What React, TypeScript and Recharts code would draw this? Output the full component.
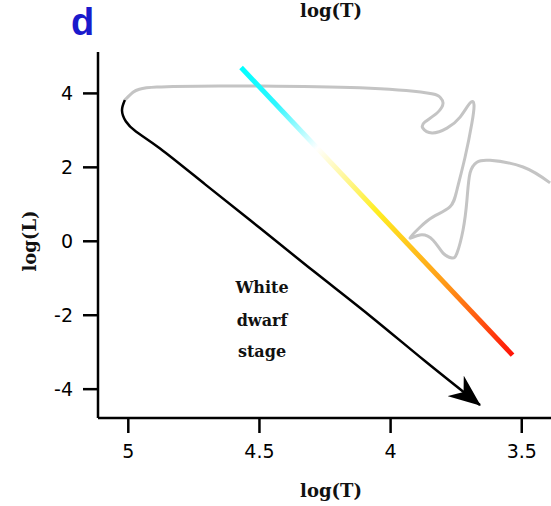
import { LineChart, Line, XAxis, YAxis } from "recharts"

const xTicks = [5, 4.5, 4, 3.5]
const yTicks = [4, 2, 0, -2, -4]

// grey evolutionary track (log T, log L)
const trackT = [5.013, 4.982, 4.891, 4.639, 4.498, 4.117, 3.861, 3.812, 3.8, 3.823, 3.869, 3.877, 3.842, 3.785, 3.735, 3.697, 3.682, 3.69, 3.716, 3.747, 3.774, 3.838, 3.888, 3.926, 3.888, 3.838, 3.8, 3.766, 3.747, 3.724, 3.709, 3.697, 3.671, 3.621, 3.495, 3.392]
const trackL = [3.82, 4.03, 4.17, 4.2, 4.2, 4.15, 4.01, 3.9, 3.74, 3.47, 3.23, 3.06, 2.93, 3.06, 3.36, 3.74, 3.69, 3.2, 2.28, 1.39, 0.93, 0.66, 0.38, 0.09, 0.17, 0.03, -0.32, -0.45, -0.32, 0.3, 1.11, 1.85, 2.14, 2.19, 2.01, 1.58]

// white dwarf cooling (black arrow)
const wdT = [5.013, 5.024, 5.009, 4.971, 4.879, 4.707, 4.497, 4.288, 4.078, 3.869, 3.659]
const wdL = [3.82, 3.54, 3.24, 2.97, 2.51, 1.54, 0.35, -0.84, -2.02, -3.24, -4.43]

// main sequence (coloured)
const msT = [4.57, 3.535]
const msL = [4.7, -3.08]

const zip = (t: number[], l: number[]) => t.map((v, i) => ({ t: v, l: l[i] }))

const tickStyle = { fontFamily: "DejaVu Sans", fontSize: 19, fill: "#000" }
const serif = "DejaVu Serif"

export default function App() {
  return (
    <div style={{ position: "absolute", left: 0, top: 0, width: 551, height: 506, background: "#fff" }}>
      <LineChart width={551} height={506} margin={{ top: 52, right: 0, bottom: 0, left: 0 }}>
        <defs>
          <linearGradient id="msGrad" x1="0" y1="0" x2="1" y2="1">
            <stop offset="0" stopColor="#00ffff" />
            <stop offset="0.13" stopColor="#30f6ff" />
            <stop offset="0.28" stopColor="#ffffff" />
            <stop offset="0.5" stopColor="#ffee22" />
            <stop offset="0.75" stopColor="#ff9a18" />
            <stop offset="1" stopColor="#ff1408" />
          </linearGradient>
          <marker id="arrowHead" viewBox="0 0 32 26" refX="31" refY="13" markerWidth="32" markerHeight="26" markerUnits="userSpaceOnUse" orient="auto">
            <path d="M0,0 L32,13 L0,26 L10,13 Z" fill="#000" />
          </marker>
        </defs>
        <XAxis
          type="number"
          dataKey="t"
          domain={[3.3885, 5.1155]}
          reversed
          allowDataOverflow
          ticks={xTicks}
          height={88}
          tickSize={15}
          tickMargin={12}
          axisLine={{ stroke: "#000", strokeWidth: 2.5 }}
          tickLine={{ stroke: "#000", strokeWidth: 2.5 }}
          tick={tickStyle}
        />
        <YAxis
          type="number"
          domain={[-4.78, 5.12]}
          allowDataOverflow
          ticks={yTicks}
          width={98}
          tickSize={15}
          tickMargin={10}
          axisLine={{ stroke: "#000", strokeWidth: 2.5 }}
          tickLine={{ stroke: "#000", strokeWidth: 2.5 }}
          tick={tickStyle}
        />
        <Line data={zip(trackT, trackL)} dataKey="l" type="natural" stroke="#c4c4c4" strokeWidth={3} dot={false} activeDot={false} isAnimationActive={false} />
        <Line data={zip(wdT, wdL)} dataKey="l" type="natural" stroke="#000" strokeWidth={2.5} dot={false} activeDot={false} markerEnd="url(#arrowHead)" isAnimationActive={false} />
        <Line data={zip(msT, msL)} dataKey="l" type="linear" stroke="url(#msGrad)" strokeWidth={5} dot={false} activeDot={false} isAnimationActive={false} />
      </LineChart>
      <svg width={551} height={506} style={{ position: "absolute", left: 0, top: 0, pointerEvents: "none" }}>
        <text x={71} y={35} fontFamily="Liberation Sans" fontWeight="bold" fontSize={38} fill="#1a1acc">d</text>
        <text x={331} y={17} textAnchor="middle" fontFamily={serif} fontWeight="bold" fontSize={18} fill="#111">log(T)</text>
        <text x={331} y={497} textAnchor="middle" fontFamily={serif} fontWeight="bold" fontSize={18} fill="#111">log(T)</text>
        <text transform="translate(36,241) rotate(-90)" textAnchor="middle" fontFamily={serif} fontWeight="bold" fontSize={18} fill="#111">log(L)</text>
        <text textAnchor="middle" fontFamily={serif} fontWeight="bold" fontSize={16} fill="#111">
          <tspan x={262} y={293}>White</tspan>
          <tspan x={262} y={326}>dwarf</tspan>
          <tspan x={262} y={357}>stage</tspan>
        </text>
      </svg>
    </div>
  )
}
